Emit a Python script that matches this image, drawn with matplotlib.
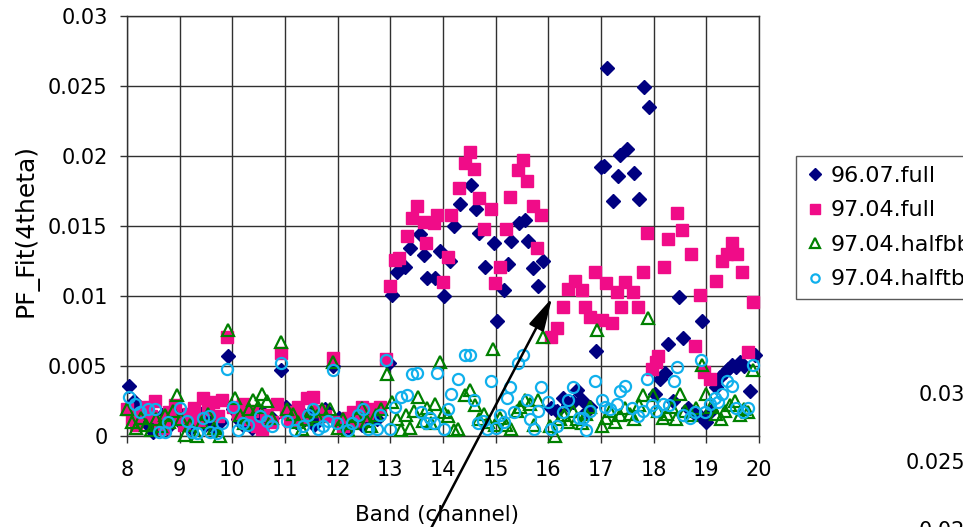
import matplotlib
matplotlib.use("Agg")
import matplotlib.pyplot as plt

# band (channel) position and PF_Fit(4theta) for each run
full9607_x = [8.04, 8.13, 8.22, 8.31, 8.40, 8.50, 8.58, 8.67, 8.76, 8.85, 8.94, 9.03, 9.12, 9.21, 9.30,
              9.40, 9.49, 9.58, 9.67, 9.76, 9.92, 10.02, 10.11, 10.20, 10.29, 10.38, 10.47, 10.56, 10.66,
              10.75, 10.92, 11.02, 11.10, 11.20, 11.29, 11.38, 11.47, 11.56, 11.66, 11.75, 11.92, 12.02,
              12.11, 12.20, 12.29, 12.38, 12.47, 12.56, 12.66, 12.75, 12.97, 13.03, 13.12, 13.28, 13.37,
              13.56, 13.63, 13.69, 13.85, 13.94, 14.02, 14.13, 14.21, 14.33, 14.53, 14.62, 14.69, 14.80,
              14.96, 15.02, 15.15, 15.24, 15.30, 15.45, 15.55, 15.62, 15.71, 15.81, 15.89, 16.06, 16.16,
              16.28, 16.38, 16.47, 16.55, 16.63, 16.72, 16.79, 16.90, 17.00, 17.05, 17.12, 17.22, 17.32,
              17.37, 17.49, 17.63, 17.72, 17.82, 17.91, 18.03, 18.12, 18.21, 18.28, 18.37, 18.49, 18.56,
              18.66, 18.78, 18.88, 18.91, 19.00, 19.08, 19.19, 19.26, 19.35, 19.42, 19.48, 19.56, 19.64,
              19.72, 19.83, 19.92]
full9607_y = [0.0036, 0.0025, 0.0020, 0.0012, 0.0008, 0.0003, 0.0010, 0.0015, 0.0006, 0.0012, 0.0018,
              0.0009, 0.0014, 0.0006, 0.0011, 0.0016, 0.0008, 0.0013, 0.0005, 0.0010, 0.0057, 0.0019,
              0.0012, 0.0008, 0.0014, 0.0006, 0.0011, 0.0017, 0.0009, 0.0013, 0.0047, 0.0021, 0.0015,
              0.0010, 0.0018, 0.0012, 0.0016, 0.0008, 0.0014, 0.0019, 0.0050, 0.0013, 0.0009, 0.0006,
              0.0011, 0.0016, 0.0008, 0.0013, 0.0018, 0.0012, 0.0052, 0.0101, 0.0117, 0.0121, 0.0134,
              0.0144, 0.0129, 0.0113, 0.0113, 0.0132, 0.0100, 0.0125, 0.0150, 0.0166, 0.0179, 0.0162,
              0.0145, 0.0121, 0.0138, 0.0082, 0.0104, 0.0123, 0.0139, 0.0152, 0.0154, 0.0139, 0.0120,
              0.0107, 0.0125, 0.0020, 0.0018, 0.0027, 0.0022, 0.0024, 0.0033, 0.0026, 0.0017, 0.0021,
              0.0061, 0.0192, 0.0193, 0.0263, 0.0168, 0.0186, 0.0201, 0.0205, 0.0188, 0.0169, 0.0249,
              0.0235, 0.0030, 0.0041, 0.0045, 0.0066, 0.0025, 0.0099, 0.0070, 0.0020, 0.0016, 0.0014,
              0.0082, 0.0010, 0.0018, 0.0035, 0.0042, 0.0046, 0.0048, 0.0051, 0.0049, 0.0053, 0.0050,
              0.0032, 0.0058]

full9704_x = [8.00, 8.09, 8.18, 8.27, 8.36, 8.45, 8.53, 8.62, 8.71, 8.80, 8.91, 9.00, 9.09, 9.18, 9.27,
              9.36, 9.45, 9.54, 9.63, 9.72, 9.80, 9.90, 10.01, 10.10, 10.21, 10.30, 10.38, 10.46, 10.56,
              10.64, 10.75, 10.84, 10.92, 11.02, 11.09, 11.16, 11.25, 11.34, 11.41, 11.53, 11.65, 11.75,
              11.92, 12.02, 12.11, 12.20, 12.29, 12.38, 12.46, 12.56, 12.66, 12.80, 12.92, 12.99, 13.09,
              13.17, 13.32, 13.41, 13.50, 13.63, 13.67, 13.82, 13.89, 14.00, 14.10, 14.16, 14.31, 14.42,
              14.51, 14.59, 14.68, 14.78, 14.91, 14.99, 15.09, 15.19, 15.27, 15.43, 15.52, 15.60, 15.70,
              15.78, 15.87, 16.06, 16.16, 16.28, 16.38, 16.51, 16.63, 16.70, 16.79, 16.89, 17.01, 17.09,
              17.20, 17.30, 17.38, 17.45, 17.61, 17.70, 17.80, 17.88, 17.96, 18.04, 18.09, 18.20, 18.28,
              18.45, 18.53, 18.71, 18.78, 18.88, 18.95, 19.07, 19.19, 19.29, 19.39, 19.48, 19.58, 19.67,
              19.80, 19.88]
full9704_y = [0.0019, 0.0012, 0.0008, 0.0016, 0.0021, 0.0014, 0.0025, 0.0010, 0.0006, 0.0017, 0.0022,
              0.0013, 0.0008, 0.0016, 0.0020, 0.0011, 0.0027, 0.0019, 0.0024, 0.0014, 0.0026, 0.0071,
              0.0021, 0.0016, 0.0023, 0.0012, 0.0018, 0.0007, 0.0005, 0.0015, 0.0010, 0.0023, 0.0059,
              0.0017, 0.0011, 0.0016, 0.0021, 0.0013, 0.0027, 0.0028, 0.0018, 0.0014, 0.0056, 0.0010,
              0.0007, 0.0013, 0.0017, 0.0011, 0.0021, 0.0015, 0.0019, 0.0021, 0.0055, 0.0107, 0.0126,
              0.0127, 0.0143, 0.0156, 0.0164, 0.0153, 0.0138, 0.0152, 0.0158, 0.0110, 0.0128, 0.0158,
              0.0177, 0.0195, 0.0203, 0.0191, 0.0170, 0.0148, 0.0162, 0.0109, 0.0121, 0.0148, 0.0171,
              0.0190, 0.0197, 0.0182, 0.0164, 0.0134, 0.0158, 0.0071, 0.0077, 0.0092, 0.0105, 0.0111,
              0.0104, 0.0092, 0.0085, 0.0117, 0.0083, 0.0109, 0.0081, 0.0103, 0.0092, 0.0110, 0.0103,
              0.0092, 0.0117, 0.0145, 0.0048, 0.0053, 0.0057, 0.0121, 0.0141, 0.0159, 0.0147, 0.0130,
              0.0064, 0.0101, 0.0046, 0.0041, 0.0111, 0.0125, 0.0130, 0.0138, 0.0130, 0.0117, 0.0060,
              0.0096]

halfbb_x = [8.00, 8.09, 8.18, 8.27, 8.36, 8.45, 8.55, 8.64, 8.73, 8.80, 8.88, 8.94, 9.03, 9.10, 9.20,
            9.32, 9.43, 9.54, 9.65, 9.77, 9.92, 10.05, 10.14, 10.22, 10.31, 10.40, 10.48, 10.56, 10.65,
            10.75, 10.92, 11.03, 11.16, 11.24, 11.33, 11.42, 11.50, 11.60, 11.70, 11.85, 11.92, 12.01,
            12.10, 12.19, 12.28, 12.37, 12.46, 12.55, 12.64, 12.73, 12.82, 12.93, 13.03, 13.12, 13.21,
            13.30, 13.37, 13.45, 13.53, 13.62, 13.70, 13.77, 13.85, 13.94, 14.02, 14.10, 14.20, 14.29,
            14.42, 14.51, 14.60, 14.68, 14.77, 14.85, 14.94, 14.99, 15.09, 15.20, 15.30, 15.40, 15.46,
            15.55, 15.65, 15.72, 15.80, 15.90, 16.03, 16.13, 16.22, 16.30, 16.38, 16.47, 16.55, 16.63,
            16.72, 16.79, 16.92, 17.01, 17.10, 17.18, 17.27, 17.36, 17.45, 17.55, 17.63, 17.72, 17.80,
            17.90, 17.99, 18.08, 18.17, 18.26, 18.35, 18.43, 18.50, 18.60, 18.70, 18.80, 18.91, 19.00,
            19.09, 19.18, 19.27, 19.36, 19.45, 19.54, 19.63, 19.72, 19.80, 19.89]
halfbb_y = [0.0019, 0.0010, 0.0006, 0.0013, 0.0008, 0.0004, 0.0012, 0.0007, 0.0015, 0.0010, 0.0018,
            0.0029, 0.0012, 0.0001, 0.0008, 0.0000, 0.0010, 0.0016, 0.0006, 0.0000, 0.0076, 0.0027,
            0.0015, 0.0009, 0.0019, 0.0026, 0.0021, 0.0030, 0.0025, 0.0013, 0.0067, 0.0019, 0.0016,
            0.0010, 0.0005, 0.0012, 0.0018, 0.0014, 0.0019, 0.0019, 0.0053, 0.0006, 0.0012, 0.0004,
            0.0009, 0.0014, 0.0020, 0.0011, 0.0007, 0.0015, 0.0019, 0.0044, 0.0024, 0.0012, 0.0004,
            0.0015, 0.0006, 0.0018, 0.0028, 0.0011, 0.0020, 0.0009, 0.0023, 0.0053, 0.0017, 0.0014,
            0.0004, 0.0005, 0.0029, 0.0033, 0.0022, 0.0012, 0.0016, 0.0010, 0.0062, 0.0008, 0.0013,
            0.0008, 0.0005, 0.0018, 0.0021, 0.0026, 0.0023, 0.0008, 0.0026, 0.0071, 0.0007, 0.0000,
            0.0012, 0.0015, 0.0010, 0.0018, 0.0012, 0.0009, 0.0016, 0.0021, 0.0076, 0.0007, 0.0013,
            0.0018, 0.0010, 0.0015, 0.0020, 0.0016, 0.0012, 0.0022, 0.0029, 0.0084, 0.0029, 0.0018,
            0.0013, 0.0016, 0.0021, 0.0012, 0.0030, 0.0018, 0.0015, 0.0020, 0.0051, 0.0030, 0.0021,
            0.0016, 0.0012, 0.0018, 0.0022, 0.0025, 0.0015, 0.0019, 0.0017, 0.0047]

halftb_x = [8.04, 8.15, 8.25, 8.40, 8.53, 8.60, 8.72, 8.78, 9.00, 9.13, 9.23, 9.32, 9.45, 9.55, 9.57,
            9.70, 9.80, 9.89, 10.02, 10.11, 10.21, 10.30, 10.52, 10.65, 10.75, 10.92, 11.03, 11.19,
            11.35, 11.44, 11.54, 11.63, 11.73, 11.82, 11.92, 11.98, 12.20, 12.27, 12.39, 12.49, 12.58,
            12.74, 12.80, 12.92, 13.00, 13.09, 13.21, 13.31, 13.41, 13.50, 13.59, 13.68, 13.75, 13.82,
            13.89, 14.01, 14.10, 14.16, 14.29, 14.42, 14.51, 14.58, 14.67, 14.75, 14.83, 14.91, 15.00,
            15.08, 15.15, 15.21, 15.27, 15.35, 15.43, 15.51, 15.59, 15.66, 15.72, 15.80, 15.87, 16.00,
            16.06, 16.16, 16.28, 16.38, 16.47, 16.58, 16.66, 16.72, 16.80, 16.89, 17.01, 17.08, 17.17,
            17.30, 17.36, 17.45, 17.58, 17.70, 17.80, 17.88, 17.96, 18.05, 18.18, 18.30, 18.39, 18.45,
            18.56, 18.69, 18.78, 18.89, 18.97, 19.07, 19.16, 19.23, 19.29, 19.39, 19.48, 19.57, 19.70,
            19.80, 19.88]
halftb_y = [0.0028, 0.0023, 0.0017, 0.0019, 0.0019, 0.0003, 0.0003, 0.0010, 0.0020, 0.0011, 0.0003,
            0.0002, 0.0013, 0.0014, 0.0003, 0.0002, 0.0009, 0.0048, 0.0021, 0.0004, 0.0009, 0.0008,
            0.0014, 0.0011, 0.0007, 0.0052, 0.0011, 0.0004, 0.0007, 0.0015, 0.0019, 0.0005, 0.0007,
            0.0011, 0.0047, 0.0009, 0.0004, 0.0009, 0.0015, 0.0019, 0.0005, 0.0005, 0.0015, 0.0054,
            0.0005, 0.0021, 0.0028, 0.0029, 0.0044, 0.0045, 0.0017, 0.0009, 0.0013, 0.0009, 0.0045,
            0.0005, 0.0019, 0.0030, 0.0041, 0.0058, 0.0058, 0.0026, 0.0009, 0.0011, 0.0005, 0.0039,
            0.0006, 0.0015, 0.0010, 0.0027, 0.0035, 0.0017, 0.0052, 0.0058, 0.0026, 0.0012, 0.0005,
            0.0018, 0.0035, 0.0024, 0.0005, 0.0007, 0.0017, 0.0026, 0.0035, 0.0013, 0.0013, 0.0004,
            0.0018, 0.0039, 0.0026, 0.0021, 0.0019, 0.0023, 0.0032, 0.0036, 0.0020, 0.0014, 0.0018,
            0.0041, 0.0022, 0.0018, 0.0023, 0.0022, 0.0039, 0.0049, 0.0015, 0.0013, 0.0017, 0.0054,
            0.0017, 0.0023, 0.0027, 0.0024, 0.0030, 0.0039, 0.0036, 0.0020, 0.0017, 0.0020, 0.0051]

series_names = ["96.07.full", "97.04.full", "97.04.halfbb", "97.04.halftb"]
yticks = [0, 0.005, 0.01, 0.015, 0.02, 0.025, 0.03]
ytick_labels = ["0", "0.005", "0.01", "0.015", "0.02", "0.025", "0.03"]
xticks = list(range(8, 21))

fig = plt.figure(figsize=(9.63, 5.27), dpi=100)
ax = fig.add_axes([127 / 963, 1 - 436 / 527, 632 / 963, 420 / 527])

ax.plot(full9607_x, full9607_y, ls="none", marker="D", ms=7.5, color="#000080",
        mec="#000080", label=series_names[0], clip_on=False, zorder=3)
ax.plot(full9704_x, full9704_y, ls="none", marker="s", ms=9, color="#F00C88",
        mec="#F00C88", label=series_names[1], clip_on=False, zorder=4)
ax.plot(halfbb_x, halfbb_y, ls="none", marker="^", ms=9, mfc="none", mec="#008000",
        mew=1.6, label=series_names[2], clip_on=False, zorder=5)
ax.plot(halftb_x, halftb_y, ls="none", marker="o", ms=8, mfc="none", mec="#10B0EC",
        mew=1.6, label=series_names[3], clip_on=False, zorder=6)

ax.set_xlim(8, 20)
ax.set_ylim(0, 0.03)
ax.set_xticks(xticks)
ax.set_yticks(yticks)
ax.set_yticklabels(ytick_labels)
ax.tick_params(labelsize=15, length=5, width=1, color="#303030")
ax.tick_params(axis="x", pad=12)
ax.tick_params(axis="y", pad=9)
ax.grid(True, color="#303030", lw=1.0)
ax.set_axisbelow(True)
for s in ax.spines.values():
    s.set_color("#303030")
    s.set_linewidth(1.0)

ax.set_xlabel("Band (channel)", fontsize=15.5, va="center")
ax.set_ylabel("PF_Fit(4theta)", fontsize=18, va="center")
ax.xaxis.set_label_coords(0.491, -0.188)
ax.yaxis.set_label_coords(-0.160, 0.49)

leg = ax.legend(loc="upper left", bbox_to_anchor=(796 / 963, 1 - 156 / 527),
                bbox_transform=fig.transFigure, fontsize=16, frameon=True, fancybox=False,
                borderpad=0.45, labelspacing=0.65, handlelength=0.8, handletextpad=0.3,
                markerscale=0.75, borderaxespad=0)
leg.get_frame().set_edgecolor("#303030")
leg.get_frame().set_linewidth(1.0)

ax.annotate("", xy=(16.07, 0.00986), xytext=(13.66, -0.0074),
            arrowprops=dict(arrowstyle="-|>,head_length=0.8,head_width=0.2", color="black",
                            lw=1.8, mutation_scale=25, shrinkA=0, shrinkB=0),
            annotation_clip=False, zorder=10)

# tick labels of the neighbouring chart, cut off at the right
for label, ypx in [("0.03", 395), ("0.025", 463), ("0.02", 531)]:
    fig.text(965 / 963, 1 - ypx / 527, label, fontsize=15, ha="right", va="center")

fig.savefig("out.png", dpi=100)
